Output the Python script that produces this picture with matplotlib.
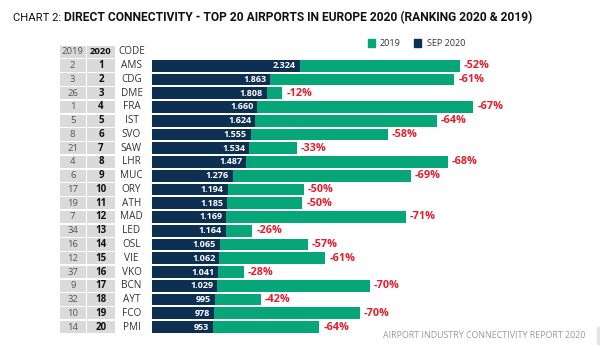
import matplotlib
matplotlib.use("Agg")
import matplotlib.pyplot as plt
from matplotlib.patches import Rectangle

codes = ["AMS", "CDG", "DME", "FRA", "IST", "SVO", "SAW", "LHR", "MUC", "ORY",
         "ATH", "MAD", "LED", "OSL", "VIE", "VKO", "BCN", "AYT", "FCO", "PMI"]
rank_2019 = [2, 3, 26, 1, 5, 8, 21, 4, 6, 17, 19, 7, 34, 16, 12, 37, 9, 32, 10, 14]
rank_2020 = list(range(1, 21))
sep_2020 = [2324, 1863, 1808, 1660, 1624, 1555, 1534, 1487, 1276, 1194,
            1185, 1169, 1164, 1065, 1062, 1041, 1029, 995, 978, 953]
val_2019 = [4845, 4760, 2055, 5060, 4490, 3710, 2285, 4660, 4080, 2395,
            2370, 4000, 1580, 2450, 2730, 1450, 3435, 1718, 3270, 2635]
change = ["-52%", "-61%", "-12%", "-67%", "-64%", "-58%", "-33%", "-68%", "-69%", "-50%",
          "-50%", "-71%", "-26%", "-57%", "-61%", "-28%", "-70%", "-42%", "-70%", "-64%"]

NAVY = "#0c2f52"
GREEN = "#06a678"
RED = "#e31e2d"
GREY = "#dadada"

plt.rcParams["font.family"] = ["Open Sans", "DejaVu Sans"]

W, H = 600, 347
fig = plt.figure(figsize=(6, 3.47), dpi=100)


def fx(x):
    return x / W


def fy(y):
    return 1 - y / H


top, bot = 58.8, 333.9
x0 = 152
scale = 0.0635  # px per unit

# bars
ax = fig.add_axes([fx(x0), fy(bot), (W - x0) / W, (bot - top) / H])
ax.set_xlim(0, (W - x0) / scale)
ax.set_ylim(19.5, -0.5)
ax.axis("off")
ys = list(range(len(codes)))
ax.barh(ys, val_2019, height=0.86, color=GREEN)
ax.barh(ys, sep_2020, height=0.86, color=NAVY)
for y, a, b, c in zip(ys, sep_2020, val_2019, change):
    ax.text(a - 4 / scale, y, f"{a:,}".replace(",", "."), ha="right", va="center",
            color="white", fontsize=6.5, fontweight="bold")
    ax.text(b + 4 / scale, y, c, ha="left", va="center", color=RED,
            fontsize=7.8, fontweight="bold")

# table on the left
tax = fig.add_axes([0, fy(bot), x0 / W, (bot - top) / H])
tax.set_xlim(0, x0)
tax.set_ylim(19.5, -0.5)
tax.axis("off")
gap = 0.1
for y in range(-1, 20):
    tax.add_patch(Rectangle((59.5, y - 0.5 + gap / 2), 26.5, 1 - gap,
                            color=GREY, lw=0, clip_on=False))
    tax.add_patch(Rectangle((87.3, y - 0.5 + gap / 2), 27.7, 1 - gap,
                            color=GREY, lw=0, clip_on=False))
tax.text(72.7, -1, "2019", ha="center", va="center", fontsize=6.8, color="#555555")
tax.text(101, -1, "2020", ha="center", va="center", fontsize=6.8,
         fontweight="bold", color="#111111")
tax.text(131.5, -1, "CODE", ha="center", va="center", fontsize=7.2, color="#333333")
for y, r19, r20, c in zip(ys, rank_2019, rank_2020, codes):
    tax.text(72.7, y, str(r19), ha="center", va="center", fontsize=6.8, color="#555555")
    tax.text(101, y, str(r20), ha="center", va="center", fontsize=7,
             fontweight="bold", color="#111111")
    tax.text(131.5, y, c, ha="center", va="center", fontsize=7.2, color="#333333")

# title: regular prefix + bold remainder, sized to the reference width
renderer = fig.canvas.get_renderer()
t1 = fig.text(fx(13), fy(18), "CHART 2:", ha="left", va="center", fontsize=10,
              color="#111111", family=["Roboto", "DejaVu Sans"])
t2 = fig.text(fx(64), fy(18),
              "DIRECT CONNECTIVITY - TOP 20 AIRPORTS IN EUROPE 2020 (RANKING 2020 & 2019)",
              ha="left", va="center", fontsize=10, fontweight="bold", color="#111111",
              family=["Roboto", "DejaVu Sans"])
w2 = t2.get_window_extent(renderer).width
t2.set_fontsize(10 * 467 / w2)
w1 = t1.get_window_extent(renderer).width
t1.set_fontsize(min(10 * 48 / w1, 10 * 467 / w2))

# legend
fig.patches.append(Rectangle((fx(368), fy(47)), 7 / W, 8 / H, color=GREEN,
                             transform=fig.transFigure, figure=fig))
fig.text(fx(380), fy(43), "2019", ha="left", va="center", fontsize=6.5, color="#333333")
fig.patches.append(Rectangle((fx(414), fy(47)), 7 / W, 8 / H, color=NAVY,
                             transform=fig.transFigure, figure=fig))
fig.text(fx(427), fy(43), "SEP 2020", ha="left", va="center", fontsize=6.5, color="#333333")

# footer
fig.text(fx(585), fy(336), "AIRPORT INDUSTRY CONNECTIVITY REPORT 2020", ha="right",
         va="center", fontsize=6.4, color="#9a9a9a")
fig.patches.append(Rectangle((fx(597), fy(344)), 3 / W, 17 / H, color="#e4e4e4",
                             transform=fig.transFigure, figure=fig))

fig.savefig("out.png", dpi=100)
